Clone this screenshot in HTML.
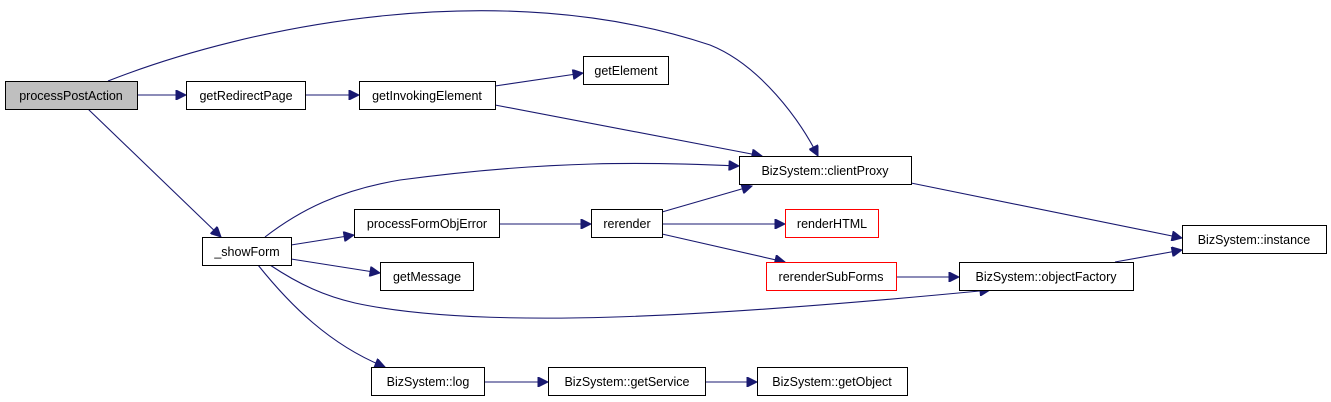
<!DOCTYPE html>
<html><head><style>
body{margin:0;background:#fff;}
svg{display:block;}
text{font-family:"Liberation Sans",Arial,sans-serif;font-size:12.5px;fill:#000;text-anchor:middle;}
.n{fill:#fff;stroke:#000;stroke-width:1;}
.r{fill:#fff;stroke:#ff0000;stroke-width:1;}
.e{fill:none;stroke:#191970;stroke-width:1.1;}
</style></head><body>
<svg width="1331" height="402" viewBox="0 0 1331 402" xmlns="http://www.w3.org/2000/svg">
<defs><marker id="a" viewBox="0 0 10 10" refX="10" refY="5" markerWidth="15" markerHeight="10" markerUnits="userSpaceOnUse" orient="auto"><path d="M0,0L10,5L0,10z" fill="#191970" stroke="#191970"/></marker></defs>
<g marker-end="url(#a)">
<path class="e" d="M138,95H186"/>
<path class="e" d="M305,95H359"/>
<path class="e" d="M495,86L583,73"/>
<path class="e" d="M495,105L762,156"/>
<path class="e" d="M108,81C250,25 500,-25 710,45C760,65 800,120 818,156"/>
<path class="e" d="M88,109L221,237"/>
<path class="e" d="M265,237C300,210 340,190 400,180C550,160 650,162 739,166"/>
<path class="e" d="M291,245L354,235"/>
<path class="e" d="M291,259L380,273"/>
<path class="e" d="M270,265C300,285 325,296 355,303C480,330 700,318 990,290"/>
<path class="e" d="M258,265C290,305 330,345 385,367"/>
<path class="e" d="M499,224H591"/>
<path class="e" d="M662,212L752,186"/>
<path class="e" d="M662,224H785"/>
<path class="e" d="M662,234L785,262"/>
<path class="e" d="M896,277H959"/>
<path class="e" d="M911,183L1182,238"/>
<path class="e" d="M1115,262L1182,250"/>
<path class="e" d="M484,382H548"/>
<path class="e" d="M705,382H757"/>
</g>
<rect x="5.5" y="81.5" width="132" height="28" fill="#bfbfbf" stroke="#000"/><text x="71" y="100">processPostAction</text>
<rect class="n" x="186.5" y="81.5" width="119" height="28"/><text x="246" y="100">getRedirectPage</text>
<rect class="n" x="359.5" y="81.5" width="136" height="28"/><text x="427" y="100">getInvokingElement</text>
<rect class="n" x="583.5" y="56.5" width="85" height="28"/><text x="626" y="75">getElement</text>
<rect class="n" x="739.5" y="156.5" width="172" height="28"/><text x="825" y="175">BizSystem::clientProxy</text>
<rect class="n" x="202.5" y="237.5" width="89" height="28"/><text x="247" y="256">_showForm</text>
<rect class="n" x="354.5" y="209.5" width="145" height="28"/><text x="427" y="228">processFormObjError</text>
<rect class="n" x="591.5" y="209.5" width="71" height="28"/><text x="627" y="228">rerender</text>
<rect class="r" x="785.5" y="209.5" width="93" height="28"/><text x="832" y="228">renderHTML</text>
<rect class="r" x="766.5" y="262.5" width="130" height="28"/><text x="831" y="281">rerenderSubForms</text>
<rect class="n" x="380.5" y="262.5" width="93" height="28"/><text x="427" y="281">getMessage</text>
<rect class="n" x="959.5" y="262.5" width="174" height="28"/><text x="1046" y="281">BizSystem::objectFactory</text>
<rect class="n" x="1182.5" y="225.5" width="144" height="28"/><text x="1254" y="244">BizSystem::instance</text>
<rect class="n" x="371.5" y="367.5" width="113" height="28"/><text x="428" y="386">BizSystem::log</text>
<rect class="n" x="548.5" y="367.5" width="157" height="28"/><text x="627" y="386">BizSystem::getService</text>
<rect class="n" x="757.5" y="367.5" width="150" height="28"/><text x="832" y="386">BizSystem::getObject</text>
</svg>
</body></html>
